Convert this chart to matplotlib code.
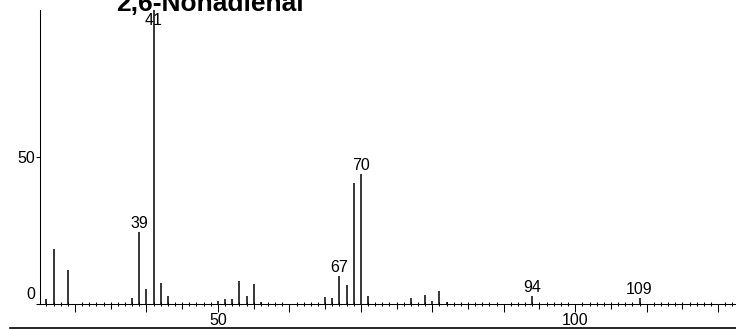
import matplotlib
matplotlib.use('Agg')
import matplotlib.pyplot as plt
import matplotlib.transforms as mtransforms
from matplotlib.lines import Line2D
from matplotlib.ticker import MultipleLocator, FixedLocator, FuncFormatter

plt.rcParams['font.family'] = ['Liberation Sans', 'DejaVu Sans']

# spectrum data (m/z, relative intensity)
title = '2,6-Nonadienal'
mz = [26, 27, 29, 38, 39, 40, 41, 42, 43, 50, 51, 52, 53, 54, 55, 56,
      65, 66, 67, 68, 69, 70, 71, 77, 79, 80, 81, 82, 94, 109]
intensity = [1.7, 18.7, 11.6, 1.9, 24.4, 5.0, 100, 7.2, 2.8, 1.0, 1.6, 1.6,
             7.8, 2.7, 6.7, 0.8, 2.5, 1.9, 9.5, 6.4, 41.3, 44.1, 2.7, 1.9,
             3.1, 1.0, 4.4, 0.8, 2.8, 1.9]
labeled = [39, 41, 67, 70, 94, 109]
x_labels = [50, 100]
y_ticks = [0, 50]

W, H = 736, 329
fig = plt.figure(figsize=(W / 100, H / 100), dpi=100)
ax = fig.add_axes([40 / W, (H - 304) / H, (W - 40) / W, 294 / H])

ax.vlines(mz, 0, intensity, color='black', lw=1.1)
ax.set_xlim(25.1, 122.5)
ax.set_ylim(0, 100)

for s in ['top', 'right']:
    ax.spines[s].set_visible(False)
for s in ['left', 'bottom']:
    ax.spines[s].set_linewidth(0.75)

# peak labels
for m, h in zip(mz, intensity):
    if m not in labeled:
        continue
    if h > 90:
        ax.annotate(str(m), (m, 100), xytext=(0, -2), textcoords='offset points',
                    ha='center', va='top', fontsize=11.5)
    else:
        ax.annotate(str(m), (m, h), xytext=(0, 3), textcoords='offset points',
                    ha='center', va='baseline', fontsize=11.5)

# y axis
ax.yaxis.set_major_locator(FixedLocator(y_ticks))
ax.tick_params(axis='y', length=2.6, width=0.75, pad=1, labelsize=11.5)
t0 = ax.yaxis.get_major_ticks()[0].label1
t0.set_transform(t0.get_transform() +
                 mtransforms.ScaledTranslation(0, 0.11, fig.dpi_scale_trans))

# x axis: unit, 5 and 10 ticks
ax.xaxis.set_major_locator(MultipleLocator(10))
ax.xaxis.set_minor_locator(MultipleLocator(1))
ax.xaxis.set_major_formatter(
    FuncFormatter(lambda v, p: '%d' % v if int(round(v)) in x_labels else ''))
ax.tick_params(axis='x', which='major', length=5.8, width=0.75, pad=0.5,
               labelsize=11.5, direction='out')
ax.tick_params(axis='x', which='minor', length=2.9, width=0.75, direction='inout')

sec = ax.secondary_xaxis('bottom')
sec.xaxis.set_major_locator(FixedLocator(list(range(25, 125, 10))))
sec.tick_params(length=3.6, width=0.75, direction='out', labelbottom=False)
sec.spines['bottom'].set_visible(False)

# title (partly cut off at top, as in the original) and bottom rule
fig.text(116 / W, 1 - 11 / H, title, ha='left', va='baseline',
         fontsize=19, fontweight='bold')
fig.add_artist(Line2D([10 / W, 1], [1.5 / H, 1.5 / H], transform=fig.transFigure,
                      color='black', lw=1.2))

fig.savefig('out.png', dpi=100)
